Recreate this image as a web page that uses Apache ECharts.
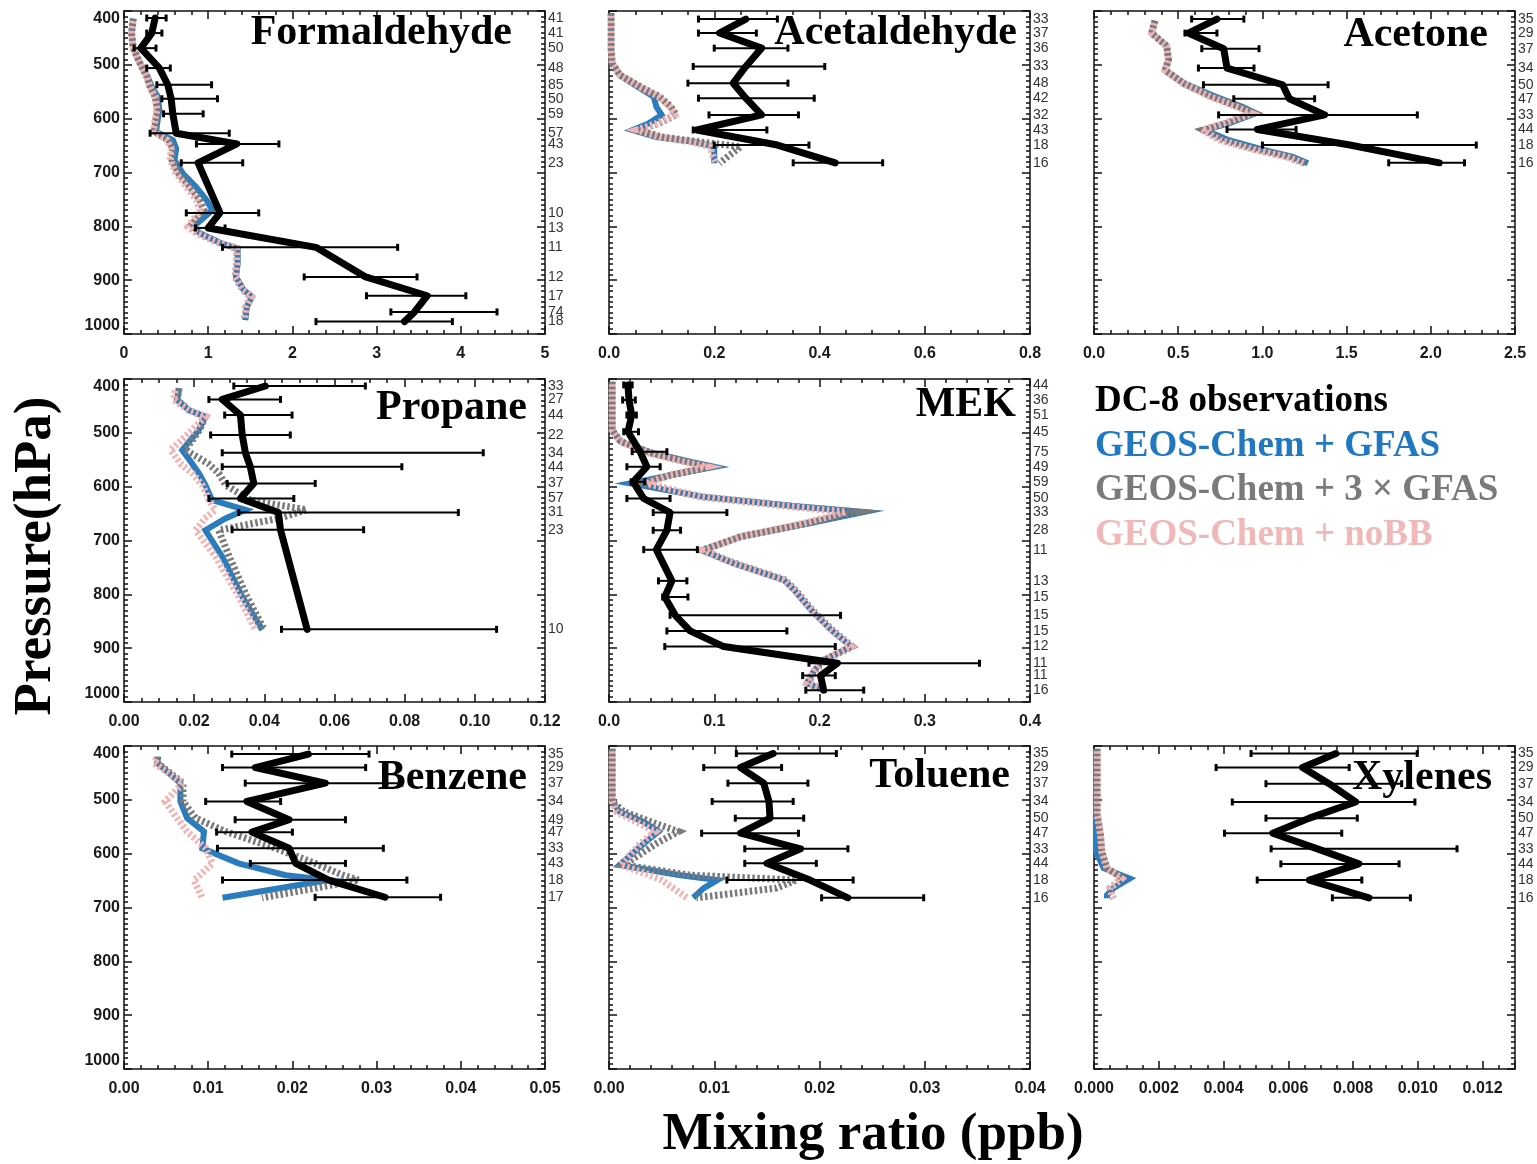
<!DOCTYPE html>
<html><head><meta charset="utf-8">
<script src="https://cdn.jsdelivr.net/npm/echarts@6/dist/echarts.min.js"></script>
<style>html,body{margin:0;padding:0;background:#fff}#c{width:1537px;height:1164px}</style>
</head><body><div id="c"></div>
<script>
// ---------------- DATA ----------------
const pressureTicks = [400, 500, 600, 700, 800, 900, 1000];
const panelNames = ['Formaldehyde','Acetaldehyde','Acetone','Propane','MEK','Benzene','Toluene','Xylenes'];
const xMaxs = [5, 0.8, 2.5, 0.12, 0.4, 0.05, 0.04, 0.013];
const xIntervals = [1, 0.2, 0.5, 0.02, 0.1, 0.01, 0.01, 0.002];
const xDecimals = [0, 1, 1, 2, 1, 2, 2, 3];
const legendNames = ['DC-8 observations','GEOS-Chem + GFAS','GEOS-Chem + 3 \u00d7 GFAS','GEOS-Chem + noBB'];

// Formaldehyde
const hchoObsP    = [413,441,469,506,537,563,591,627,647,682,775,803,839,894,929,959,977];
const hchoObsMean = [0.37,0.33,0.20,0.42,0.52,0.56,0.58,0.62,1.34,0.88,1.14,1.00,2.28,2.87,3.60,3.45,3.33];
const hchoObsLo   = [0.27,0.27,0.12,0.27,0.39,0.45,0.47,0.31,0.86,0.68,0.74,0.85,1.17,2.14,2.88,3.17,2.28];
const hchoObsHi   = [0.50,0.45,0.38,0.55,1.04,1.11,0.94,1.25,1.84,1.41,1.60,1.20,3.25,3.48,4.06,4.43,3.90];
const hchoObsN    = [41,41,50,48,85,50,59,57,43,23,10,13,11,12,17,74,18];
const hchoModP  = [414,441,469,497,522,541,559,584,602,624,640,655,677,702,726,751,770,801,813,832,841,869,894,918,931,949,974];
const hchoGfas  = [0.11,0.09,0.11,0.19,0.28,0.33,0.40,0.42,0.40,0.38,0.58,0.62,0.60,0.70,0.85,0.98,1.05,0.82,0.90,1.16,1.35,1.35,1.33,1.42,1.52,1.46,1.44];
const hchoGfas3 = [0.11,0.09,0.11,0.19,0.27,0.31,0.37,0.40,0.38,0.36,0.53,0.58,0.57,0.65,0.78,0.90,0.95,0.78,0.88,1.15,1.34,1.34,1.32,1.41,1.51,1.45,1.43];
const hchoNobb  = [0.11,0.09,0.11,0.19,0.27,0.31,0.37,0.39,0.37,0.35,0.51,0.56,0.55,0.62,0.74,0.86,0.90,0.76,0.86,1.14,1.34,1.34,1.32,1.41,1.51,1.45,1.43];

// Acetaldehyde
const acetObsP    = [415,441,469,503,534,562,593,621,649,682];
const acetObsMean = [0.26,0.21,0.29,0.26,0.236,0.26,0.29,0.167,0.32,0.43];
const acetObsLo   = [0.17,0.17,0.20,0.16,0.15,0.17,0.19,0.16,0.20,0.35];
const acetObsHi   = [0.32,0.28,0.34,0.41,0.34,0.39,0.36,0.30,0.38,0.52];
const acetObsN    = [33,37,36,33,48,42,32,43,18,16];
const acetModP  = [404,416,440,470,497,519,541,559,578,593,609,621,634,643,652,671,683];
const acetGfas  = [0.004,0.004,0.004,0.004,0.006,0.020,0.055,0.085,0.090,0.100,0.075,0.045,0.090,0.160,0.200,0.200,0.200];
const acetGfas3 = [0.004,0.004,0.004,0.004,0.006,0.021,0.060,0.096,0.118,0.127,0.094,0.055,0.100,0.170,0.250,0.225,0.210];
const acetNobb  = [0.004,0.004,0.004,0.004,0.006,0.021,0.059,0.094,0.116,0.125,0.091,0.053,0.097,0.154,0.192,0.198,0.205];

// Acetone
const actnObsP    = [415,441,470,506,537,563,593,620,649,682];
const actnObsMean = [0.73,0.56,0.77,0.79,1.12,1.16,1.37,0.97,1.52,2.05];
const actnObsLo   = [0.58,0.54,0.64,0.62,0.65,0.83,0.74,0.79,1.00,1.75];
const actnObsHi   = [0.89,0.73,0.98,0.95,1.39,1.31,1.92,1.20,2.27,2.20];
const actnObsN    = [35,29,37,34,50,47,33,44,18,16];
const actnModP  = [418,441,465,491,510,535,559,578,590,609,621,640,659,671,683];
const actnGfas  = [0.362,0.342,0.432,0.442,0.422,0.540,0.720,0.880,0.960,0.800,0.660,0.800,1.020,1.180,1.270];
const actnGfas3 = [0.362,0.342,0.432,0.442,0.422,0.535,0.700,0.860,0.950,0.780,0.650,0.770,0.990,1.160,1.260];
const actnNobb  = [0.362,0.342,0.432,0.442,0.422,0.530,0.689,0.847,0.936,0.768,0.640,0.748,0.966,1.144,1.243];

// Propane
const propObsP    = [413,438,467,504,537,563,594,622,648,680,865];
const propObsMean = [0.0403,0.0280,0.0332,0.0337,0.0346,0.0360,0.0370,0.0332,0.0440,0.0446,0.0522];
const propObsLo   = [0.0313,0.0242,0.0287,0.0247,0.0280,0.0280,0.0294,0.0242,0.0327,0.0308,0.0449];
const propObsHi   = [0.0688,0.0446,0.0479,0.0474,0.1024,0.0792,0.0545,0.0484,0.0953,0.0683,0.1062];
const propObsN    = [33,27,44,22,34,44,37,57,31,23,10];
const propModP  = [417,439,458,470,495,532,557,575,597,625,643,659,681,730,804,866];
const propGfas  = [0.0157,0.0152,0.0185,0.0232,0.0213,0.0166,0.0194,0.0213,0.0232,0.0251,0.0346,0.0289,0.0232,0.0280,0.0337,0.0394];
const propGfas3 = [0.0157,0.0152,0.0185,0.0232,0.0215,0.0175,0.0240,0.0270,0.0290,0.0360,0.0520,0.0440,0.0270,0.0300,0.0350,0.0400];
const propNobb  = [0.0147,0.0142,0.0185,0.0232,0.0194,0.0133,0.0161,0.0194,0.0223,0.0242,0.0260,0.0230,0.0204,0.0261,0.0327,0.0375];

// MEK
const mekObsP    = [411,439,467,498,535,563,591,622,648,681,717,775,805,839,868,897,928,951,978];
const mekObsMean = [0.018,0.019,0.0216,0.018,0.0295,0.036,0.023,0.033,0.058,0.055,0.045,0.0597,0.053,0.063,0.077,0.109,0.217,0.201,0.204];
const mekObsLo   = [0.014,0.013,0.017,0.014,0.022,0.017,0.021,0.017,0.042,0.042,0.033,0.047,0.051,0.058,0.055,0.053,0.190,0.184,0.187];
const mekObsHi   = [0.022,0.025,0.026,0.028,0.055,0.0486,0.034,0.058,0.112,0.068,0.084,0.074,0.075,0.220,0.169,0.215,0.352,0.215,0.242];
const mekObsN    = [44,36,51,45,75,49,59,50,33,28,11,13,15,15,15,12,11,11,16];
const mekModP  = [405,417,495,516,538,554,563,578,594,619,637,647,668,693,718,742,773,792,829,866,897,922,941,965,978];
const mekGfas  = [0.003,0.003,0.003,0.011,0.042,0.078,0.100,0.060,0.020,0.090,0.180,0.242,0.190,0.125,0.088,0.118,0.166,0.176,0.192,0.211,0.230,0.204,0.195,0.188,0.204];
const mekGfas3 = [0.003,0.003,0.003,0.011,0.041,0.075,0.098,0.060,0.030,0.089,0.178,0.236,0.188,0.125,0.089,0.119,0.167,0.177,0.193,0.212,0.231,0.205,0.196,0.189,0.205];
const mekNobb  = [0.003,0.003,0.003,0.0105,0.039,0.071,0.093,0.058,0.036,0.087,0.172,0.225,0.185,0.125,0.090,0.118,0.166,0.176,0.192,0.211,0.230,0.204,0.195,0.188,0.204];

// Benzene
const bnzObsP    = [415,440,469,503,537,560,590,618,649,681];
const bnzObsMean = [0.0219,0.0156,0.0239,0.0146,0.0196,0.0152,0.0196,0.0204,0.0243,0.0310];
const bnzObsLo   = [0.0128,0.0117,0.0144,0.0097,0.0132,0.0110,0.0111,0.0150,0.0117,0.0227];
const bnzObsHi   = [0.0291,0.0287,0.0330,0.0186,0.0263,0.0200,0.0308,0.0263,0.0336,0.0376];
const bnzObsN    = [35,29,37,34,49,47,33,43,18,17];
const bnzModP  = [420,432,469,503,534,559,590,618,640,649,682];
const bnzGfas  = [0.0040,0.0040,0.0067,0.0067,0.0075,0.0095,0.0093,0.0136,0.0192,0.0243,0.0117];
const bnzGfas3 = [0.0040,0.0040,0.0070,0.0070,0.0085,0.0121,0.0180,0.0227,0.0260,0.0279,0.0164];
const bnzNobb  = [0.0040,0.0036,0.0070,0.0049,0.0063,0.0075,0.0097,0.0105,0.0090,0.0083,0.0093];

// Toluene
const tolObsP    = [414,440,469,503,534,562,591,618,649,682];
const tolObsMean = [0.0156,0.0125,0.0147,0.0152,0.0153,0.0125,0.0182,0.0150,0.0191,0.0227];
const tolObsLo   = [0.0121,0.0090,0.0113,0.0098,0.0120,0.0088,0.0129,0.0129,0.0112,0.0202];
const tolObsHi   = [0.0216,0.0164,0.0189,0.0175,0.0185,0.0180,0.0227,0.0197,0.0232,0.0299];
const tolObsN    = [35,29,37,34,50,47,33,44,18,16];
const tolModP  = [405,414,503,522,541,559,581,621,640,649,664,682];
const tolGfas  = [0.0003,0.0003,0.0003,0.0010,0.0033,0.0047,0.0033,0.0010,0.0068,0.0103,0.0090,0.0080];
const tolGfas3 = [0.0003,0.0003,0.0003,0.0014,0.0040,0.0066,0.0045,0.0014,0.0077,0.0178,0.0159,0.0083];
const tolNobb  = [0.0003,0.0003,0.0003,0.0007,0.0026,0.0044,0.0030,0.0011,0.0039,0.0050,0.0061,0.0074];

// Xylenes
const xylObsP    = [414,440,470,504,534,562,591,619,649,682];
const xylObsMean = [0.00747,0.00644,0.00726,0.00808,0.00665,0.00552,0.00690,0.00818,0.00665,0.00849];
const xylObsLo   = [0.00485,0.00377,0.00531,0.00427,0.00531,0.00403,0.00547,0.00577,0.00504,0.00736];
const xylObsHi   = [0.00998,0.00788,0.00950,0.00991,0.00813,0.00765,0.01121,0.00942,0.00827,0.00977];
const xylObsN    = [35,29,37,34,50,47,33,44,18,16];
const xylModP  = [405,414,527,565,596,627,646,664,677,683];
const xylGfas  = [0.00006,0.00006,0.00006,0.00006,0.00006,0.0003,0.0011,0.0006,0.0004,0.0004];
const xylGfas3 = [0.0001,0.0001,0.0001,0.0002,0.00024,0.0004,0.0009,0.0005,0.00055,0.0006];
const xylNobb  = [0.0001,0.0001,0.0001,0.0002,0.00024,0.0004,0.00085,0.0005,0.00055,0.0006];

// ---------------- BUILD ----------------
const panelData = [
  [hchoObsP,hchoObsMean,hchoObsLo,hchoObsHi,hchoObsN,hchoModP,hchoGfas,hchoGfas3,hchoNobb],
  [acetObsP,acetObsMean,acetObsLo,acetObsHi,acetObsN,acetModP,acetGfas,acetGfas3,acetNobb],
  [actnObsP,actnObsMean,actnObsLo,actnObsHi,actnObsN,actnModP,actnGfas,actnGfas3,actnNobb],
  [propObsP,propObsMean,propObsLo,propObsHi,propObsN,propModP,propGfas,propGfas3,propNobb],
  [mekObsP,mekObsMean,mekObsLo,mekObsHi,mekObsN,mekModP,mekGfas,mekGfas3,mekNobb],
  [bnzObsP,bnzObsMean,bnzObsLo,bnzObsHi,bnzObsN,bnzModP,bnzGfas,bnzGfas3,bnzNobb],
  [tolObsP,tolObsMean,tolObsLo,tolObsHi,tolObsN,tolModP,tolGfas,tolGfas3,tolNobb],
  [xylObsP,xylObsMean,xylObsLo,xylObsHi,xylObsN,xylModP,xylGfas,xylGfas3,xylNobb]
];

// layout
const colLeft = [124, 609, 1094];
const rowTop = [11, 379, 746];
const gridW = 421, gridH = 323;
const slots = [[0,0],[0,1],[0,2],[1,0],[1,1],[2,0],[2,1],[2,2]];
const xMinorSplit = [5,4,5,4,5,5,5,4];
const titlePos = [[512,33],[1017,33],[1488,35],[527,408],[1016,405],[527,778],[1010,776],[1492,778]];
const COL_OBS = '#000000', COL_GFAS = '#2b7cbd', COL_GFAS3 = '#7a7a7a', COL_NOBB = '#f3b3b3';

const grids = [], xAxes = [], yAxes = [], series = [], graphics = [];
const tickFont = {fontFamily:'Liberation Sans, Arial, sans-serif', fontWeight:'bold', fontSize:16, color:'#1a1a1a'};
const axisLineStyle = {color:'#111', width:1.5};

panelNames.forEach((name, i) => {
  const [r, c] = slots[i];
  grids.push({left: colLeft[c], top: rowTop[r], width: gridW, height: gridH, outerBoundsMode:'none', containLabel:false});
  const intv = xIntervals[i], dec = xDecimals[i];
  const fmt = v => {
    const k = v / intv;
    return Math.abs(k - Math.round(k)) > 1e-6 ? '' : v.toFixed(dec);
  };
  const xBase = {type:'value', gridIndex:i, min:0, max:xMaxs[i], interval:intv,
    splitLine:{show:false}, axisLine:{show:true, onZero:false, lineStyle:axisLineStyle},
    axisTick:{show:true, inside:true, length:8, lineStyle:{color:'#111', width:1.5}},
    minorTick:{show:true, splitNumber:xMinorSplit[i], length:4, lineStyle:{color:'#111', width:1.5}},
    minorSplitLine:{show:false}};
  xAxes.push(Object.assign({}, xBase, {position:'bottom',
    axisLabel:Object.assign({show:true, margin:12, formatter:fmt}, tickFont)}));
  xAxes.push(Object.assign({}, xBase, {position:'top', axisLabel:{show:false}}));
  const yBase = {type:'value', gridIndex:i, min:400, max:1000, interval:100, inverse:true,
    splitLine:{show:false}, axisLine:{show:true, onZero:false, lineStyle:axisLineStyle},
    axisTick:{show:true, inside:true, length:8, lineStyle:{color:'#111', width:1.5}},
    minorTick:{show:true, splitNumber:10, length:4, lineStyle:{color:'#111', width:1.5}},
    minorSplitLine:{show:false}};
  yAxes.push(Object.assign({}, yBase, {position:'left',
    axisLabel:Object.assign({show:c === 0, margin:4, formatter:v => String(v),
      verticalAlignMinLabel:'top', verticalAlignMaxLabel:'bottom'}, tickFont)}));
  yAxes.push(Object.assign({}, yBase, {position:'right', axisLabel:{show:false}}));

  const d = panelData[i];
  const [oP, oM, oLo, oHi, oN, mP, gf, gf3, nb] = d;
  const xi = 2*i, yi = 2*i;
  const lineSeries = (vals, color, type, offset, w, z) => ({
    type:'line', xAxisIndex:xi, yAxisIndex:yi, symbol:'none', clip:true, z:z,
    data: mP.map((p, k) => [vals[k], p]),
    lineStyle:{color:color, width:w, type:type, dashOffset:offset, cap:'butt', join:'miter'},
    emphasis:{disabled:true}, silent:true
  });
  series.push(lineSeries(gf, COL_GFAS, 'solid', 0, 6, 2));
  series.push(lineSeries(gf3, COL_GFAS3, [2.5,2.5], 0, 7, 3));
  series.push(lineSeries(nb, COL_NOBB, [2.5,2.5], 2.5, 7, 4));
  // error bars
  series.push({
    type:'custom', xAxisIndex:xi, yAxisIndex:yi, z:5, silent:true,
    data: oP.map((p, k) => [oLo[k], oHi[k], p]),
    encode:{x:[0,1], y:2},
    renderItem:(params, api) => {
      const a = api.coord([api.value(0), api.value(2)]);
      const b = api.coord([api.value(1), api.value(2)]);
      const h = 3.5;
      const st = {stroke:'#000', lineWidth:2};
      return {type:'group', children:[
        {type:'line', shape:{x1:a[0], y1:a[1], x2:b[0], y2:b[1]}, style:st},
        {type:'line', shape:{x1:a[0], y1:a[1]-h, x2:a[0], y2:a[1]+h}, style:{stroke:'#000', lineWidth:3}},
        {type:'line', shape:{x1:b[0], y1:b[1]-h, x2:b[0], y2:b[1]+h}, style:{stroke:'#000', lineWidth:3}}
      ]};
    }
  });
  // obs mean line
  series.push({
    type:'line', xAxisIndex:xi, yAxisIndex:yi, symbol:'none', clip:true, z:6, silent:true,
    data: oP.map((p, k) => [oM[k], p]),
    lineStyle:{color:COL_OBS, width:7, join:'round', cap:'round'}
  });
  // sample counts at right side
  series.push({
    type:'custom', xAxisIndex:xi, yAxisIndex:yi, z:7, silent:true, clip:false,
    data: oP.map((p, k) => [xMaxs[i], p, oN[k]]),
    encode:{x:0, y:1},
    renderItem:(params, api) => {
      const pt = api.coord([api.value(0), api.value(1)]);
      return {type:'text', style:{text:String(api.value(2)), x:pt[0]+3, y:pt[1],
        align:'left', verticalAlign:'middle', fill:'#333',
        font:'14px "Liberation Sans Narrow", "Liberation Sans", Arial, sans-serif'}};
    }
  });
  graphics.push({type:'text', z:100, style:{text:name, x:titlePos[i][0], y:titlePos[i][1],
    align:'right', verticalAlign:'middle', fill:'#000',
    font:'bold 42px "Liberation Serif", "Times New Roman", serif'}});
});

// axis titles
graphics.push({type:'text', z:100, x:36, y:556, rotation:Math.PI/2,
  style:{text:'Pressure(hPa)', x:0, y:0, align:'center', verticalAlign:'middle', fill:'#000',
  font:'bold 53px "Liberation Serif", "Times New Roman", serif'}});
graphics.push({type:'text', z:100,
  style:{text:'Mixing ratio (ppb)', x:873, y:1135, align:'center', verticalAlign:'middle', fill:'#000',
  font:'bold 53px "Liberation Serif", "Times New Roman", serif'}});
// legend
const legendColors = [COL_OBS, '#1f78c1', COL_GFAS3, '#f0b8b8'];
const legendY = [401, 446, 490, 535];
legendNames.forEach((t, k) => {
  graphics.push({type:'text', z:100, style:{text:t, x:1095, y:legendY[k], align:'left', verticalAlign:'middle',
    fill:legendColors[k], font:'bold 37px "Liberation Serif", "Times New Roman", serif'}});
});

const chart = echarts.init(document.getElementById('c'), null, {renderer:'canvas'});
chart.setOption({
  backgroundColor:'#ffffff',
  animation:false,
  grid:grids, xAxis:xAxes, yAxis:yAxes, series:series, graphic:graphics,
  tooltip:{show:false}
});
</script>
</body></html>
